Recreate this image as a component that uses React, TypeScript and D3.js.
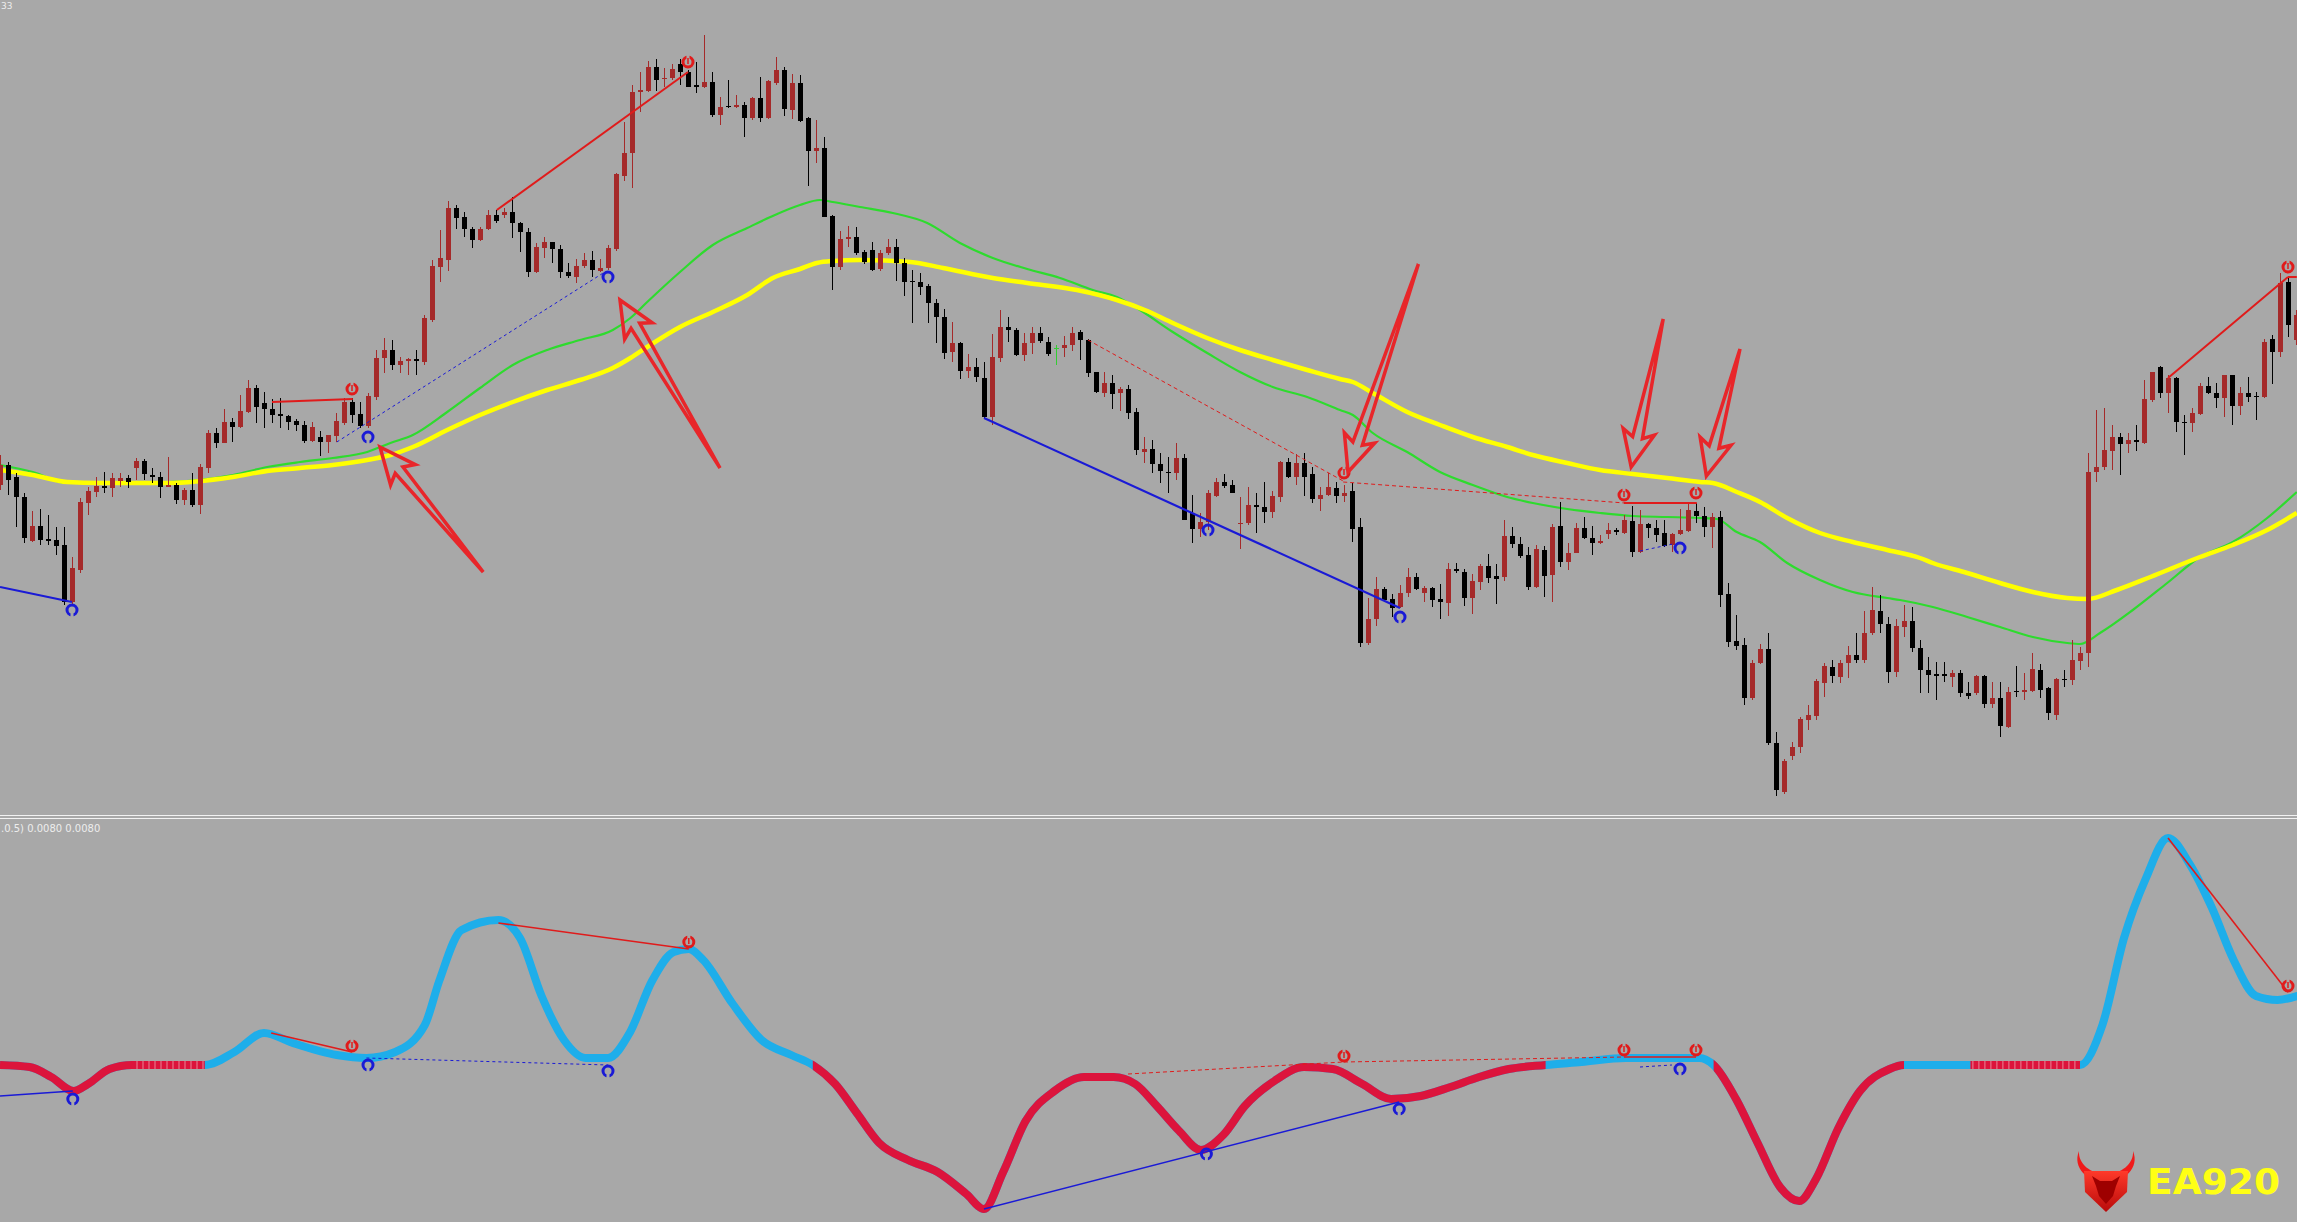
import React from 'react';
import * as d3 from 'd3';

const W = 2297;
const H = 1222;

// candle data: [open, high, low, close] in price points
const ohlc: [number, number, number, number][] = [
[515,545,510,535],[535,538,505,520],[523,527,473,503],[503,507,457,462],[459,489,458,474],
[474,491,455,460],[461,485,455,459],[460,473,445,454],[455,473,395,398],[398,443,395,432],
[430,502,427,498],[497,513,485,509],[508,523,503,514],[514,528,507,512],[512,527,503,522],
[519,527,513,522],[522,525,512,518],[532,542,520,539],[539,541,520,526],[525,532,517,523],
[523,528,502,513],[513,543,513,515],[515,517,496,500],[500,512,495,510],[510,527,493,495],
[495,536,486,533],[532,570,527,567],[567,572,552,557],[557,591,557,578],[578,582,558,573],
[573,605,572,589],[588,620,587,612],[612,615,577,593],[597,608,572,591],[591,601,577,585],
[586,602,572,584],[584,585,570,578],[579,581,569,575],[575,579,557,559],[559,578,558,573],
[563,569,544,558],[558,565,547,565],[564,587,558,579],[577,602,575,598],[598,602,577,585],
[586,598,572,574],[574,607,572,604],[603,650,600,642],[642,662,627,650],[650,660,630,635],
[635,643,627,639],[639,642,625,641],[641,650,625,639],[638,685,635,682],[680,740,678,734],
[733,770,718,742],[740,799,729,792],[792,795,771,782],[783,788,763,771],[771,773,752,760],
[760,773,759,771],[771,790,770,785],[785,790,777,779],[785,792,782,788],[788,803,762,777],
[777,778,748,768],[768,772,723,728],[728,757,727,753],[752,763,742,758],[758,758,737,751],
[751,755,722,728],[728,737,722,724],[723,741,717,734],[734,747,732,740],[740,749,723,730],
[729,741,728,732],[732,755,730,752],[751,827,749,826],[824,878,819,847],[847,915,812,908],
[908,928,888,910],[909,939,908,933],[933,941,909,920],[921,932,913,922],[922,936,920,931],
[936,941,915,928],[928,930,913,913],[915,938,907,913],[913,965,912,918],[918,928,883,885],
[885,903,875,893],[894,920,892,893],[893,905,892,895],[895,898,863,882],[882,903,880,902],
[902,923,878,882],[882,920,881,919],[917,943,915,930],[930,933,884,891],[890,926,881,917],
[917,925,878,879],[882,883,814,849],[849,880,837,852],[852,863,783,783],[784,785,710,733],
[733,769,730,761],[761,774,753,763],[763,773,745,747],[748,750,736,738],[750,758,729,730],
[731,750,729,747],[747,761,745,753],[753,761,719,737],[737,742,704,718],[719,730,677,718],
[718,727,705,713],[714,716,677,697],[697,701,657,683],[683,691,641,647],[648,678,638,657],
[657,658,621,629],[629,646,622,633],[633,642,618,623],[622,638,582,583],[583,666,575,643],
[642,690,638,673],[673,683,658,670],[670,672,644,645],[645,667,639,657],[657,673,646,667],
[667,673,657,659],[658,663,644,646],[652,655,635,652],[652,664,643,655],[655,673,649,667],
[668,670,640,660],[660,661,623,627],[628,628,607,608],[607,628,603,617],[617,625,591,606],
[607,613,589,611],[611,615,581,587],[588,592,545,550],[548,563,537,551],[551,560,527,536],
[536,547,517,529],[528,543,507,527],[527,557,520,542],[542,546,480,480],[487,505,457,471],
[471,487,463,478],[478,510,470,507],[504,522,503,518],[518,526,512,514],[515,520,507,507],
[476,503,451,477],[477,513,475,495],[495,507,467,493],[493,518,477,488],[488,509,482,504],
[503,539,498,538],[538,542,522,523],[523,546,515,537],[537,547,504,523],[526,533,497,501],
[501,513,489,505],[505,527,504,513],[512,518,497,504],[504,515,498,507],[509,517,458,471],
[473,482,353,357],[357,402,355,381],[381,423,374,411],[411,413,398,400],[401,406,383,392],
[393,415,392,407],[407,432,403,423],[423,427,410,411],[407,414,398,412],[412,413,393,400],
[401,416,381,398],[397,437,384,431],[431,437,427,429],[428,431,394,402],[402,426,386,419],
[418,436,410,434],[434,446,417,422],[424,436,396,421],[423,480,419,464],[464,473,452,456],
[456,463,442,444],[445,453,410,413],[413,455,412,451],[450,454,403,424],[425,476,398,473],
[474,498,433,438],[438,457,430,447],[447,477,447,472],[472,483,461,462],[462,474,445,457],
[457,465,456,459],[466,477,461,470],[470,472,465,468],[467,485,466,480],[479,494,443,448],
[448,490,447,476],[476,477,462,472],[472,480,458,465],[467,480,453,454],[455,467,448,466],
[466,491,465,470],[469,497,468,490],[489,497,477,484],[484,493,463,473],[473,487,452,483],
[483,489,393,405],[406,417,353,358],[359,385,350,354],[355,362,295,302],[302,340,300,337],
[337,356,336,351],[351,367,255,257],[257,268,204,210],[208,241,206,239],[244,258,240,253],
[253,283,247,281],[280,295,270,285],[284,321,280,319],[317,337,303,334],[333,340,317,324],
[323,340,317,337],[337,354,322,345],[345,367,337,340],[340,389,337,367],[367,413,365,390],
[389,405,367,376],[376,383,317,328],[328,381,323,374],[373,395,363,379],[379,393,348,352],
[352,360,307,330],[330,343,307,325],[326,338,300,324],[326,338,318,324],[323,330,313,327],
[327,330,303,307],[307,318,301,304],[307,325,305,324],[324,325,292,296],[296,318,292,302],
[302,318,263,274],[273,313,272,308],[309,334,303,308],[308,327,300,310],[309,347,308,331],
[330,336,302,310],[312,313,280,287],[285,322,280,321],[321,330,313,320],[320,360,315,340],
[339,353,330,347],[347,547,333,528],[528,590,518,533],[533,592,530,550],[549,575,530,563],
[563,567,525,556],[556,567,547,560],[560,575,549,558],[557,620,556,601],[600,628,598,628],
[633,634,602,607],[607,625,587,622],[622,623,568,578],[578,585,545,577],[577,592,568,587],
[586,617,585,614],[614,623,606,607],[607,617,592,602],[602,625,583,625],[625,625,575,594],
[594,613,585,607],[607,623,598,603],[604,608,580,603],[603,661,602,658],[661,665,616,648],
[648,727,643,717],[718,722,663,675],[660,690,655,685]
];

// slow moving average (yellow): [bar index, price]
const yellowMA: [number, number][] = [
[0,530],[4.1,525],[8.4,518],[12.5,517],[20.9,517],[29.1,523],[33.4,529],[37.5,532],[41.6,535],
[45.9,540],[48.8,545],[51.6,553],[55.9,570],[60,585],[64.1,598],[68.4,610],[72.5,620],[76.6,632],
[78.8,642],[80.9,653],[85,673],[89.1,688],[93.4,705],[96.6,722],[100,731],[102.1,737],[104.1,739],
[107.5,740],[113.8,738],[117.9,732],[124.1,722],[128.4,717],[134.6,710],[139.6,700],[143.1,690],
[146.6,677],[150.9,662],[155,650],[159.1,640],[163.4,630],[167.5,621],[169.1,618],[171.6,607],
[175.9,588],[180,575],[184.1,563],[188.4,553],[191.6,545],[195.9,537],[200,530],[204.1,526],
[208.4,522],[212.5,518],[214.1,517],[217.1,508],[220,498],[223.4,482],[227.5,467],[231.6,458],
[235.9,450],[240,442],[241.6,437],[245.9,427],[250,417],[254.1,408],[258.4,402],[260.9,401],
[264.6,410],[268.8,423],[275,443],[279.1,455],[283.4,470],[287.1,487]
];

// fast moving average (green): [bar index, price]
const greenMA: [number, number][] = [
[0,535],[4.1,528],[8.4,517],[12.5,517],[20.9,518],[29.1,525],[33.4,533],[37.5,538],[41.6,542],
[45.9,548],[48.8,557],[51.6,565],[55.9,588],[60,612],[64.1,635],[68.4,650],[72.5,660],[76.6,670],
[78.8,682],[80.9,698],[85,728],[89.1,755],[93.4,772],[96.3,783],[100,795],[102.5,800],[104.1,798],
[107.5,793],[111.6,787],[115.9,777],[120,757],[124.1,742],[128.4,731],[132.5,722],[136.6,710],
[139.6,703],[142.5,690],[146.6,668],[150.9,647],[155,628],[159.1,613],[163.4,603],[167.5,590],
[169.1,585],[171.6,567],[175.9,548],[180,528],[184.1,515],[188.4,503],[191.6,497],[195.9,491],
[200,487],[204.1,484],[208.4,483],[212.5,482],[214.6,481],[217.1,468],[220,458],[223.4,437],
[227.5,420],[231.6,408],[235.9,402],[237.5,400],[241.6,393],[245.9,383],[250,373],[254.1,363],
[258.4,357],[260,356],[262.5,367],[266.6,390],[270.9,417],[275,443],[279.1,458],[283.4,482],[287.1,508]
];

// oscillator: [bar index, value]
const oscValues: [number, number][] = [
[0,0],[3.7,-2],[6.4,-12],[9.2,-26],[11,-19],[13.7,-4],[16.5,0],[25.6,0],[29.3,13],[33,32],
[36.6,22],[42.1,10],[45.8,7],[49.4,13],[53.1,40],[54.9,84],[57.7,135],[62.3,145],[65,127],
[67.7,69],[70.5,25],[73.2,7],[76,7],[78.7,32],[81.5,84],[84.2,113],[86.1,116],[87.9,105],
[91.6,61],[95.2,25],[98.9,10],[101.6,0],[104.4,-19],[107.1,-48],[109.9,-78],[113.5,-95],
[117.2,-107],[120.8,-129],[123,-144],[125.4,-107],[128.2,-56],[131.8,-26],[135.5,-12],
[139.2,-12],[141.9,-19],[144.6,-41],[147.4,-66],[150.1,-85],[152.9,-70],[155.6,-41],[159.3,-16],
[163,-2],[166.6,-4],[170.3,-19],[173.9,-34],[177.6,-31],[181.3,-22],[184.9,-12],[188.6,-4],
[193.2,0],[197.7,3],[203.2,7],[208.7,7],[212.4,7],[214.2,0],[217,-34],[219.7,-78],[222.5,-122],
[224.9,-136],[227,-114],[229.8,-63],[232.5,-26],[236.2,-4],[238,0],[246.3,0],[260,0],[262.8,40],
[265.5,127],[268.2,186],[271,227],[273.7,201],[276.5,157],[279.2,105],[282,69],[284.7,65],[287.1,69]
];

// bar ranges where the oscillator is falling (crimson)
const oscRedRanges: [number, number][] = [
[0,25.6],[101.6,193.2],[214.2,238],[246.3,260]
];
// bar ranges where the crimson line rests flat (drawn beaded)
const oscFlatRanges: [number, number][] = [
[16.5,25.6],[246.3,260]
];

// divergence lines on the price chart: [from idx, from price, to idx, to price]
const priceBlueSolid: [number, number, number, number][] = [[0,413,9,398],[123,582,175,392]];
const priceBlueDotted: [number, number, number, number][] = [[42.1,558,75.4,727],[205,449,209.1,456]];
const priceRedSolid: [number, number, number, number][] = [[34,598,44.1,601],[62.1,790,86,928],[203,497,212.1,497],[271,622,286,723],[286,723,287.1,723]];
const priceRedDotted: [number, number, number, number][] = [[136,660,167.9,519],[167.9,518,203.1,497]];
const priceUpMarks: [number, number][] = [[9,390],[46,563],[76,723],[151,470],[175,383],[210,452]];
const priceDownMarks: [number, number][] = [[44,611],[86,938],[168,527],[203,505],[212,507],[286,733]];

// hand drawn arrows: [tip idx, tip price, tail idx, tail price]
const arrows: [number, number, number, number][] = [
[47.5,553,60.4,428],[77.5,700,90,532],[168.5,528,177.3,736],[203.9,533,207.9,681],[213.3,524,217.5,651]
];

// oscillator divergence lines: [from idx, from value, to idx, to value]
const oscBlueSolid: [number, number, number, number][] = [[0,-31,9.1,-26],[123,-144,174.9,-37]];
const oscBlueDotted: [number, number, number, number][] = [[45.8,7,76,0],[205,-2,209,0]];
const oscRedSolid: [number, number, number, number][] = [[33.9,32,44,13],[62.3,142,86.1,116],[203,8,212,8],[271,227,286,73]];
const oscRedDotted: [number, number, number, number][] = [[141,-9,168,3],[168,3,203,8]];
const oscUpMarks: [number, number][] = [[9.1,-34],[46,0],[76,-6],[150.8,-89],[174.9,-44],[210,-4]];
const oscDownMarks: [number, number][] = [[44,19],[86.1,123],[168,9],[203,15],[212,15],[286,79]];

const BG = '#A8A8A8';
const BULL = '#A52A2A';
const BEAR = '#000000';
const DOJI = '#33CC33';
const BLUE = '#1A1AD6';
const RED = '#E01B1B';
const OSC_BLUE = '#1EAEEA';
const OSC_RED = '#DC143C';

function Marker({ cx, cy, color, up }: { cx: number; cy: number; color: string; up: boolean }) {
  return (
    <g>
      <circle cx={cx} cy={cy} r={5} fill="none" stroke={color} strokeWidth={3} />
      {up ? (
        <rect x={cx - 1.5} y={cy} width={3} height={8} fill={BG} />
      ) : (
        <>
          <rect x={cx - 1.5} y={cy - 8} width={3} height={8} fill={BG} />
          <line x1={cx} y1={cy - 4} x2={cx} y2={cy + 2} stroke={color} strokeWidth={1.5} />
        </>
      )}
    </g>
  );
}

export default function App() {
  const x = d3.scaleLinear().domain([0, 287]).range([0, 2296]);
  const y = d3.scaleLinear().domain([188, 1000]).range([812, 0]);
  const yo = d3.scaleLinear().domain([-157, 247]).range([1222, 818]);

  const maLine = d3
    .line<[number, number]>()
    .x((d) => x(d[0]))
    .y((d) => y(d[1]))
    .curve(d3.curveMonotoneX);
  const oscLine = d3
    .line<[number, number]>()
    .x((d) => x(d[0]))
    .y((d) => yo(d[1]))
    .curve(d3.curveMonotoneX);
  const oscPath = oscLine(oscValues) || '';

  const arrowPath = (a: [number, number, number, number]) => {
    const tx = x(a[0]);
    const ty = y(a[1]);
    const ax = x(a[2]);
    const ay = y(a[3]);
    const L = Math.hypot(ax - tx, ay - ty);
    const ux = (ax - tx) / L;
    const uy = (ay - ty) / L;
    const px = -uy;
    const py = ux;
    const pt = (u: number, w: number) => `${tx + ux * u + px * w},${ty + uy * u + py * w}`;
    return `M${pt(0, 0)}L${pt(36, 16)}L${pt(30, 5)}L${pt(L, 0)}L${pt(30, -5)}L${pt(36, -16)}Z`;
  };

  return (
    <svg
      width={W}
      height={H}
      viewBox={`0 0 ${W} ${H}`}
      style={{ position: 'absolute', left: 0, top: 0, display: 'block' }}
      fontFamily="'DejaVu Sans', Verdana, sans-serif"
    >
      <defs>
        <clipPath id="mainClip">
          <rect x={0} y={0} width={W} height={813} />
        </clipPath>
        <clipPath id="oscClip">
          <rect x={0} y={820} width={W} height={H - 820} />
        </clipPath>
        <clipPath id="oscRedClip">
          {oscRedRanges.map((r, i) => (
            <rect key={i} x={x(r[0])} y={820} width={x(r[1]) - x(r[0])} height={H - 820} />
          ))}
        </clipPath>
        <clipPath id="oscFlatClip">
          {oscFlatRanges.map((r, i) => (
            <rect key={i} x={x(r[0])} y={820} width={x(r[1]) - x(r[0])} height={H - 820} />
          ))}
        </clipPath>
        <linearGradient id="shieldGrad" x1="0" y1="0" x2="0" y2="1">
          <stop offset="0" stopColor="#FF3A2A" />
          <stop offset="1" stopColor="#B80A0A" />
        </linearGradient>
      </defs>
      <rect x={0} y={0} width={W} height={H} fill={BG} />

      {/* main chart */}
      <g clipPath="url(#mainClip)">
        <path d={maLine(greenMA) || ''} fill="none" stroke="#2EDB2E" strokeWidth={2.2} />
        <path d={maLine(yellowMA) || ''} fill="none" stroke="#FFFF00" strokeWidth={4.5} />

        <g shapeRendering="crispEdges">
          {ohlc.map((c, i) => {
            const [o, h, l, cl] = c;
            const col = o === cl ? DOJI : cl > o ? BULL : BEAR;
            const cx = x(i);
            const top = y(Math.max(o, cl));
            const bot = y(Math.min(o, cl));
            return (
              <g key={i}>
                <rect x={cx} y={y(h)} width={1} height={Math.max(1, y(l) - y(h))} fill={col} />
                <rect x={cx - 2} y={top} width={5} height={Math.max(1, bot - top)} fill={col} />
              </g>
            );
          })}
        </g>

        {priceBlueSolid.map((s, i) => (
          <line key={'bs' + i} x1={x(s[0])} y1={y(s[1])} x2={x(s[2])} y2={y(s[3])} stroke={BLUE} strokeWidth={2.2} />
        ))}
        {priceBlueDotted.map((s, i) => (
          <line key={'bd' + i} x1={x(s[0])} y1={y(s[1])} x2={x(s[2])} y2={y(s[3])} stroke={BLUE} strokeWidth={1} strokeDasharray="3,3" />
        ))}
        {priceRedSolid.map((s, i) => (
          <line key={'rs' + i} x1={x(s[0])} y1={y(s[1])} x2={x(s[2])} y2={y(s[3])} stroke={RED} strokeWidth={2} />
        ))}
        {priceRedDotted.map((s, i) => (
          <line key={'rd' + i} x1={x(s[0])} y1={y(s[1])} x2={x(s[2])} y2={y(s[3])} stroke={RED} strokeWidth={1} strokeDasharray="4,3" />
        ))}
        {priceUpMarks.map((m, i) => (
          <Marker key={'pu' + i} cx={x(m[0])} cy={y(m[1])} color={BLUE} up={true} />
        ))}
        {priceDownMarks.map((m, i) => (
          <Marker key={'pd' + i} cx={x(m[0])} cy={y(m[1])} color={RED} up={false} />
        ))}

        {arrows.map((a, i) => (
          <path key={'ar' + i} d={arrowPath(a)} fill="none" stroke="#E8262A" strokeWidth={3.5} strokeLinejoin="miter" />
        ))}
      </g>

      <text x={1} y={9} fontSize={9} fill="#EDEDED">33</text>

      {/* separator */}
      <line x1={0} x2={W} y1={815.5} y2={815.5} stroke="#F2F2F2" strokeWidth={1} />
      <line x1={0} x2={W} y1={818.5} y2={818.5} stroke="#F2F2F2" strokeWidth={1} />
      <text x={1} y={832} fontSize={10} fill="#EDEDED">.0.5) 0.0080 0.0080</text>

      {/* oscillator */}
      <g clipPath="url(#oscClip)">
        <path d={oscPath} fill="none" stroke={OSC_BLUE} strokeWidth={8} strokeLinejoin="round" strokeLinecap="round" />
        <g clipPath="url(#oscRedClip)">
          <path d={oscPath} fill="none" stroke={OSC_RED} strokeWidth={8} strokeLinejoin="round" />
        </g>
        <g clipPath="url(#oscFlatClip)">
          <path d={oscPath} fill="none" stroke="#E4607A" strokeWidth={8} strokeDasharray="1.5,4.5" />
        </g>
        {oscBlueSolid.map((s, i) => (
          <line key={'obs' + i} x1={x(s[0])} y1={yo(s[1])} x2={x(s[2])} y2={yo(s[3])} stroke={BLUE} strokeWidth={1.6} />
        ))}
        {oscBlueDotted.map((s, i) => (
          <line key={'obd' + i} x1={x(s[0])} y1={yo(s[1])} x2={x(s[2])} y2={yo(s[3])} stroke={BLUE} strokeWidth={1} strokeDasharray="3,3" />
        ))}
        {oscRedSolid.map((s, i) => (
          <line key={'ors' + i} x1={x(s[0])} y1={yo(s[1])} x2={x(s[2])} y2={yo(s[3])} stroke={RED} strokeWidth={1.6} />
        ))}
        {oscRedDotted.map((s, i) => (
          <line key={'ord' + i} x1={x(s[0])} y1={yo(s[1])} x2={x(s[2])} y2={yo(s[3])} stroke={RED} strokeWidth={1} strokeDasharray="4,3" />
        ))}
        {oscUpMarks.map((m, i) => (
          <Marker key={'ou' + i} cx={x(m[0])} cy={yo(m[1])} color={BLUE} up={true} />
        ))}
        {oscDownMarks.map((m, i) => (
          <Marker key={'od' + i} cx={x(m[0])} cy={yo(m[1])} color={RED} up={false} />
        ))}
      </g>

      {/* logo */}
      <g>
        <path
          d="M2079,1151 C2072,1168 2088,1182 2106,1182 C2124,1182 2140,1168 2133,1151 C2134,1164 2121,1174 2106,1174 C2091,1174 2078,1164 2079,1151 Z"
          fill="#F01A1A"
        />
        <path d="M2084,1171 L2128,1171 L2127,1192 L2106,1212 L2085,1192 Z" fill="url(#shieldGrad)" />
        <path
          d="M2092,1176 L2100,1181 L2112,1181 L2120,1176 L2116,1186 L2113,1196 L2106,1204 L2099,1196 L2096,1186 Z"
          fill="#9E0000"
        />
        <text x={2147} y={1194} fontSize={35} fontWeight="bold" fill="#FFFF14" textLength={133} lengthAdjust="spacingAndGlyphs">
          EA920
        </text>
      </g>
    </svg>
  );
}
